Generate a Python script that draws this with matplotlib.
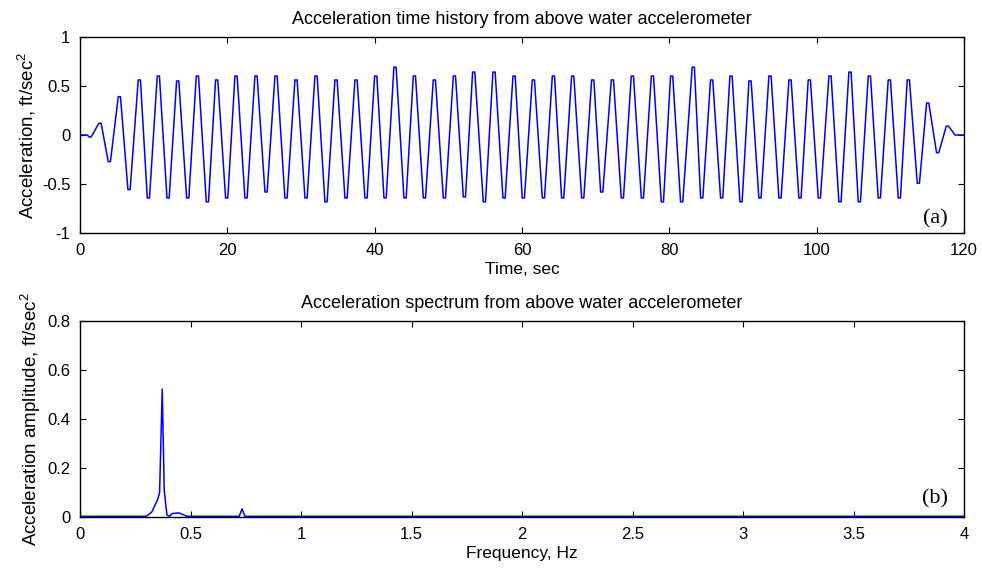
import matplotlib
matplotlib.use("Agg")
import matplotlib.pyplot as plt

# Time history: extrema (sec, ft/sec^2)
TIME_S = [0.0, 1.0, 1.36, 2.71, 3.98, 5.34, 6.65, 8.05, 9.28, 10.63, 11.95, 13.26,
          14.62, 15.93, 17.29, 18.55, 19.91, 21.18, 22.53, 23.89, 25.25, 26.61,
          27.96, 29.32, 30.68, 32.04, 33.39, 34.75, 36.11, 37.47, 38.82, 40.14,
          41.41, 42.76, 44.12, 45.39, 46.75, 48.10, 49.46, 50.82, 52.18, 53.44,
          54.89, 56.20, 57.56, 58.92, 60.18, 61.54, 62.90, 64.26, 65.52, 66.88,
          68.24, 69.60, 70.82, 72.27, 73.62, 74.98, 76.34, 77.70, 79.05, 80.31,
          81.67, 83.25, 84.39, 85.74, 87.10, 88.37, 89.73, 90.95, 92.30, 93.66,
          95.02, 96.38, 97.73, 99.00, 100.36, 101.81, 103.16, 104.52, 105.79,
          107.15, 108.50, 109.86, 111.22, 112.44, 113.80, 115.07, 116.42, 117.74,
          118.78, 120.0]
ACCEL = [0.0, 0.0, -0.02, 0.12, -0.27, 0.39, -0.555, 0.56, -0.64, 0.60, -0.64, 0.55,
         -0.64, 0.60, -0.68, 0.56, -0.64, 0.60, -0.64, 0.60, -0.58, 0.60,
         -0.64, 0.56, -0.64, 0.60, -0.68, 0.56, -0.64, 0.56, -0.64, 0.60,
         -0.64, 0.69, -0.64, 0.60, -0.64, 0.56, -0.64, 0.60, -0.63, 0.64,
         -0.68, 0.64, -0.64, 0.60, -0.64, 0.56, -0.64, 0.60, -0.64, 0.60,
         -0.64, 0.56, -0.58, 0.56, -0.64, 0.60, -0.64, 0.60, -0.68, 0.60,
         -0.68, 0.69, -0.64, 0.56, -0.64, 0.60, -0.68, 0.55, -0.64, 0.60,
         -0.64, 0.56, -0.64, 0.56, -0.64, 0.60, -0.68, 0.64, -0.68,
         0.60, -0.64, 0.56, -0.64, 0.56, -0.49, 0.325, -0.18, 0.09,
         0.0, 0.0]
# width of the flat crest/trough seen at each extremum (sec)
CREST_WIDTH_S = 0.3

# Spectrum (Hz, ft/sec^2)
FREQ_HZ = [0.0, 0.30, 0.325, 0.35, 0.36, 0.372, 0.381, 0.393, 0.405, 0.416, 0.446,
           0.469, 0.484, 0.72, 0.733, 0.746, 0.76, 4.0]
AMPLITUDE = [0.004, 0.004, 0.022, 0.07, 0.10, 0.522, 0.11, 0.01, 0.004, 0.015, 0.018,
             0.01, 0.004, 0.004, 0.034, 0.004, 0.004, 0.004]

LINE_COLOR = "#0000ff"

plt.rcParams.update({
    "font.family": ["Liberation Sans", "DejaVu Sans"],
    "font.size": 12,
    "mathtext.fontset": "custom",
    "mathtext.rm": "Liberation Sans",
    "mathtext.it": "Liberation Sans",
    "axes.linewidth": 1.0,
})


def crest_path(times, values, width):
    """Each interior extremum is drawn as a short flat top, like the sampled record."""
    xs, ys = [], []
    for i, (t, v) in enumerate(zip(times, values)):
        if 2 <= i < len(times) - 2:
            xs += [t - width / 2, t + width / 2]
            ys += [v, v]
        else:
            xs.append(t)
            ys.append(v)
    return xs, ys


def style_axes(ax):
    ax.tick_params(direction="in", top=True, right=True, length=4, width=0.8,
                   labelsize=12, pad=7)
    for sp in ax.spines.values():
        sp.set_linewidth(1.0)


fig = plt.figure(figsize=(9.82, 5.73), dpi=100)
ax_a = fig.add_axes([0.0815, 0.5928, 0.9002, 0.3432])
ax_b = fig.add_axes([0.0815, 0.0972, 0.9002, 0.3426])

tx, ty = crest_path(TIME_S, ACCEL, CREST_WIDTH_S)
ax_a.plot(tx, ty, color=LINE_COLOR, linewidth=1.1)
ax_a.set_xlim(0, 120)
ax_a.set_ylim(-1, 1)
ax_a.set_xticks(range(0, 121, 20))
ax_a.set_yticks([-1, -0.5, 0, 0.5, 1])
ax_a.set_yticklabels(["-1", "-0.5", "0", "0.5", "1"])
ax_a.set_xlabel("Time, sec", labelpad=3, fontsize=12.5)
ax_a.set_ylabel("Acceleration, ft/sec$^2$", labelpad=3, fontsize=13.5)
ax_a.set_title("Acceleration time history from above water accelerometer", pad=9, fontsize=13)
ax_a.text(0.982, 0.05, "(a)", transform=ax_a.transAxes, ha="right", va="baseline",
          fontsize=16, family=["Liberation Serif", "DejaVu Serif"])
style_axes(ax_a)

ax_b.plot(FREQ_HZ, AMPLITUDE, color=LINE_COLOR, linewidth=1.1)
ax_b.set_xlim(0, 4)
ax_b.set_ylim(0, 0.8)
ax_b.set_xticks([0, 0.5, 1, 1.5, 2, 2.5, 3, 3.5, 4])
ax_b.set_xticklabels(["0", "0.5", "1", "1.5", "2", "2.5", "3", "3.5", "4"])
ax_b.set_yticks([0, 0.2, 0.4, 0.6, 0.8])
ax_b.set_yticklabels(["0", "0.2", "0.4", "0.6", "0.8"])
ax_b.set_xlabel("Frequency, Hz", labelpad=3, fontsize=12.5)
ax_b.set_ylabel("Acceleration amplitude, ft/sec$^2$", labelpad=3, fontsize=13.5)
ax_b.set_title("Acceleration spectrum from above water accelerometer", pad=9, fontsize=13)
ax_b.text(0.982, 0.07, "(b)", transform=ax_b.transAxes, ha="right", va="baseline",
          fontsize=16, family=["Liberation Serif", "DejaVu Serif"])
style_axes(ax_b)

fig.savefig("out.png", dpi=100, facecolor="white")
